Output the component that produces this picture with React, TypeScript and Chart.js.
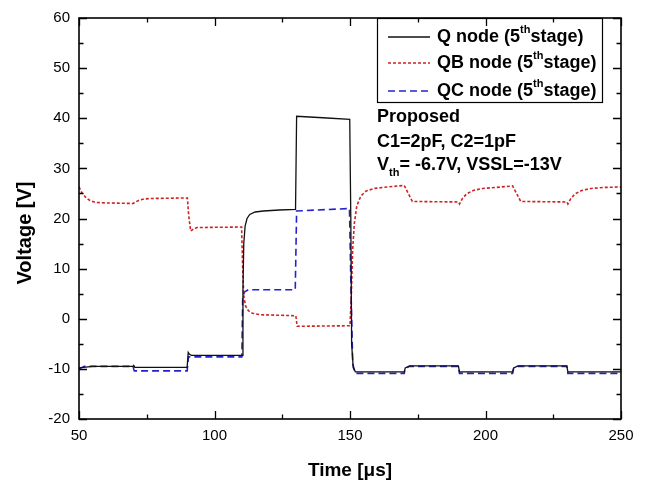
import React, { useEffect, useRef } from "react";
import { Chart, registerables } from "chart.js";

Chart.register(...registerables);

// ---- data (time in µs, voltage in V) ----
const tQ = [50, 55, 69.9, 70.2, 70.6, 89.9, 90.3, 90.8, 91.5, 110.2, 110.5, 110.8, 111.3, 112, 113, 115, 118, 124, 129.9, 130.3, 140, 149.9, 150.3, 150.6, 151.2, 152, 170, 170.4, 172, 190, 190.4, 210, 210.4, 212, 230, 230.4, 250];
const vQ = [-9.8, -9.5, -9.5, -9.3, -9.7, -9.7, -6.7, -7.1, -7.3, -7.3, 6, 15, 18.5, 20, 20.8, 21.3, 21.5, 21.7, 21.8, 40.4, 40.1, 39.8, 20, -5, -9.8, -10.6, -10.6, -9.8, -9.4, -9.4, -10.6, -10.6, -9.8, -9.4, -9.4, -10.6, -10.6];

const tQB = [50, 51, 52.5, 54, 56, 60, 70, 70.5, 72, 74, 77, 90, 90.5, 91.2, 92, 93.5, 110, 110.4, 110.8, 111.5, 112.5, 114, 117, 130, 130.5, 150, 150.5, 151, 151.6, 152.5, 154, 156, 159, 164, 170, 173, 190, 190.4, 191.5, 193, 195.5, 199, 204, 210, 213, 230, 230.4, 231.5, 233, 235.5, 239, 244, 250];
const vQB = [26.3, 25.2, 24.2, 23.6, 23.2, 23.1, 23.0, 23.2, 23.6, 23.9, 24.0, 24.1, 20.5, 17.5, 17.8, 18.2, 18.3, 10, 4.5, 2.5, 1.6, 1.1, 0.8, 0.6, -1.5, -1.4, 5, 14, 19, 22.5, 24.5, 25.5, 26, 26.3, 26.6, 23.4, 23.3, 22.9, 24.0, 24.9, 25.6, 26.0, 26.2, 26.5, 23.4, 23.3, 22.9, 24.0, 24.9, 25.6, 26.0, 26.2, 26.3];

const tQC = [50, 52, 69.9, 70.4, 89.9, 90.4, 110.1, 110.4, 111, 112.5, 129.8, 130.3, 149.8, 150.4, 151, 152, 170, 170.4, 172, 190, 190.4, 210, 210.4, 212, 230, 230.4, 250];
const vQC = [-10, -9.5, -9.5, -10.4, -10.4, -7.6, -7.6, 4, 5.3, 5.8, 5.8, 21.5, 22.0, 5, -9, -10.9, -10.9, -9.9, -9.5, -9.5, -10.9, -10.9, -9.9, -9.5, -9.5, -10.9, -10.9];

const xTicks = [50, 100, 150, 200, 250];
const yTicks = [-20, -10, 0, 10, 20, 30, 40, 50, 60];
const xMinorStep = 25;
const yMinorStep = 5;

const xTitle = "Time [μs]";
const yTitle = "Voltage [V]";
const seriesNames = ["Q node", "QB node", "QC node"];
const seriesStage = "5";
const notes = ["Proposed", "C1=2pF, C2=1pF"];
const vthNote = { main: "V", sub: "th", rest: "= -6.7V, VSSL=-13V" };

const FONT = "'Liberation Sans', Arial, Helvetica, sans-serif";
const BLACK = "#111111";
const RED = "rgb(205,35,35)";
const BLUE = "rgb(35,35,205)";

const styles = [
  { color: BLACK, dash: [] as number[], width: 1.3 },
  { color: RED, dash: [3, 2], width: 1.6 },
  { color: BLUE, dash: [7, 4], width: 1.6 },
];

const toXY = (t: number[], v: number[]) => t.map((x, i) => ({ x, y: v[i] }));

const framePlugin = {
  id: "frameTicksLegend",
  afterDatasetsDraw(chart: any) {
    const { ctx, chartArea: a, scales } = chart;
    const xs = scales.x;
    const ys = scales.y;
    ctx.save();
    ctx.strokeStyle = "#000";
    ctx.lineWidth = 1.6;
    ctx.setLineDash([]);
    ctx.strokeRect(a.left, a.top, a.right - a.left, a.bottom - a.top);
    ctx.lineWidth = 1.3;
    for (let v = yTicks[0]; v <= yTicks[yTicks.length - 1]; v += yMinorStep) {
      const major = yTicks.includes(v);
      const len = major ? 8 : 4.5;
      const py = Math.round(ys.getPixelForValue(v)) + 0.5;
      ctx.beginPath();
      ctx.moveTo(a.left, py);
      ctx.lineTo(a.left + len, py);
      ctx.moveTo(a.right, py);
      ctx.lineTo(a.right - len, py);
      ctx.stroke();
    }
    for (let t = xTicks[0]; t <= xTicks[xTicks.length - 1]; t += xMinorStep) {
      const major = xTicks.includes(t);
      const len = major ? 8 : 4.5;
      const px = Math.round(xs.getPixelForValue(t)) + 0.5;
      ctx.beginPath();
      ctx.moveTo(px, a.bottom);
      ctx.lineTo(px, a.bottom - len);
      ctx.moveTo(px, a.top);
      ctx.lineTo(px, a.top + len);
      ctx.stroke();
    }

    // y axis title (rotated)
    ctx.save();
    ctx.translate(25, 233);
    ctx.rotate(-Math.PI / 2);
    ctx.fillStyle = "#000";
    ctx.font = `bold 20px ${FONT}`;
    ctx.textAlign = "center";
    ctx.textBaseline = "middle";
    ctx.fillText(yTitle, 0, 0);
    ctx.restore();

    // legend box
    const bx = 377, by = 18, bw = 225, bh = 84;
    ctx.lineWidth = 1.2;
    ctx.strokeStyle = "#000";
    ctx.strokeRect(bx + 0.5, by + 0.5, bw, bh);
    const rows = [37, 63, 91];
    ctx.textBaseline = "middle";
    ctx.textAlign = "left";
    seriesNames.forEach((name, i) => {
      const s = styles[i];
      const ry = rows[i];
      ctx.strokeStyle = s.color;
      ctx.lineWidth = s.width;
      ctx.setLineDash(s.dash);
      ctx.beginPath();
      ctx.moveTo(388, ry);
      ctx.lineTo(430, ry);
      ctx.stroke();
      ctx.setLineDash([]);
      ctx.fillStyle = "#000";
      let x = 437;
      ctx.font = `bold 18px ${FONT}`;
      const t1 = `${name} (${seriesStage}`;
      ctx.fillText(t1, x, ry);
      x += ctx.measureText(t1).width;
      ctx.font = `bold 11px ${FONT}`;
      ctx.fillText("th", x, ry - 7);
      x += ctx.measureText("th").width;
      ctx.font = `bold 18px ${FONT}`;
      ctx.fillText("stage)", x, ry);
    });

    // notes
    ctx.fillStyle = "#000";
    ctx.font = `bold 18px ${FONT}`;
    ctx.fillText(notes[0], 377, 117);
    ctx.fillText(notes[1], 377, 142);
    let x = 377;
    ctx.fillText(vthNote.main, x, 165);
    x += ctx.measureText(vthNote.main).width;
    ctx.font = `bold 11px ${FONT}`;
    ctx.fillText(vthNote.sub, x, 173);
    x += ctx.measureText(vthNote.sub).width;
    ctx.font = `bold 18px ${FONT}`;
    ctx.fillText(vthNote.rest, x, 165);
    ctx.restore();
  },
};

export default function App() {
  const ref = useRef<HTMLCanvasElement | null>(null);
  useEffect(() => {
    if (!ref.current) return;
    const mk = (i: number, t: number[], v: number[], label: string) => ({
      label: `${label} (${seriesStage}th stage)`,
      data: toXY(t, v),
      borderColor: styles[i].color,
      borderWidth: styles[i].width,
      borderDash: styles[i].dash,
      pointRadius: 0,
      fill: false,
      tension: 0,
    });
    const chart = new Chart(ref.current, {
      type: "line",
      data: {
        datasets: [
          mk(0, tQ, vQ, seriesNames[0]),
          mk(1, tQB, vQB, seriesNames[1]),
          mk(2, tQC, vQC, seriesNames[2]),
        ],
      },
      options: {
        animation: false,
        responsive: false,
        devicePixelRatio: 1,
        layout: { padding: { top: 16, right: 30, left: 0, bottom: 0 } },
        plugins: { legend: { display: false }, tooltip: { enabled: false } },
        scales: {
          x: {
            type: "linear",
            min: 50,
            max: 250,
            afterFit: (s: any) => { s.height = 64; },
            afterBuildTicks: (s: any) => { s.ticks = xTicks.map((value) => ({ value })); },
            ticks: { font: { family: FONT, size: 15 }, color: "#000", padding: 8, maxRotation: 0 },
            grid: { display: false, drawTicks: false },
            border: { display: false },
            title: { display: true, text: xTitle, color: "#000", font: { family: FONT, size: 19, weight: "bold" }, padding: { top: 0, bottom: 1 } },
          },
          y: {
            type: "linear",
            min: -20,
            max: 60,
            afterFit: (s: any) => { s.width = 79; },
            afterBuildTicks: (s: any) => { s.ticks = yTicks.map((value) => ({ value })); },
            ticks: { font: { family: FONT, size: 15 }, color: "#000", padding: 9 },
            grid: { display: false, drawTicks: false },
            border: { display: false },
            title: { display: false, text: yTitle },
          },
        },
      },
      plugins: [framePlugin],
    } as any);
    return () => chart.destroy();
  }, []);
  return (
    <div style={{ position: "absolute", left: 0, top: 0, width: 651, height: 483, background: "#fff" }}>
      <canvas ref={ref} width={651} height={483} style={{ display: "block", width: 651, height: 483 }} />
    </div>
  );
}
